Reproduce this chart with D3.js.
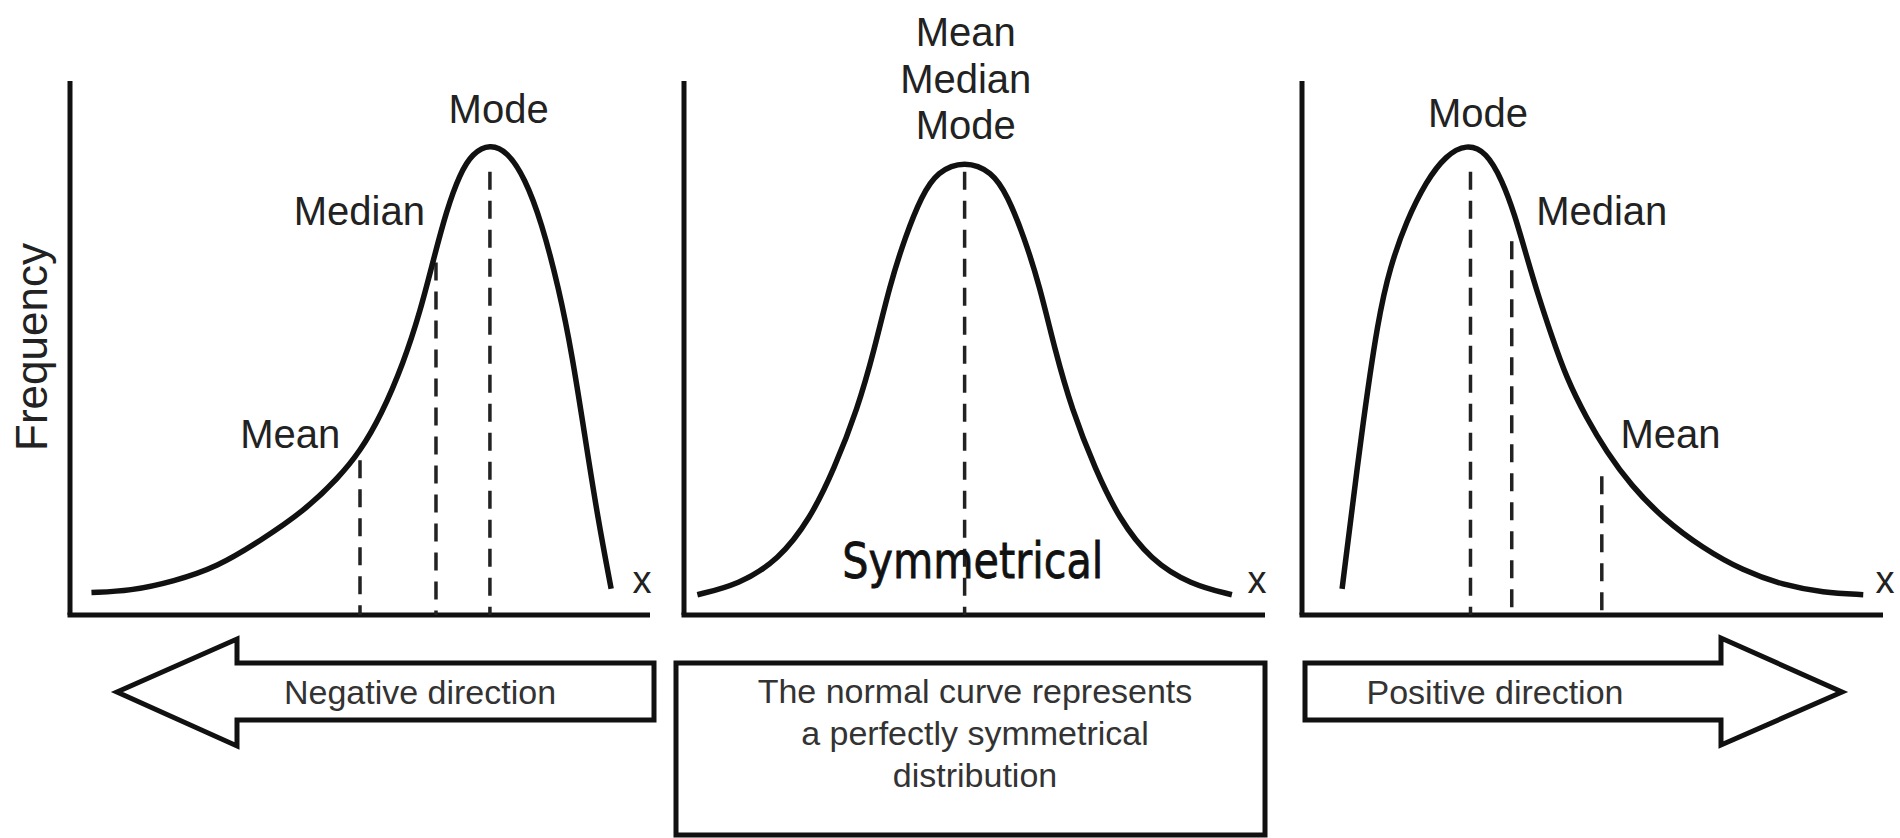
<!DOCTYPE html>
<html><head><meta charset="utf-8">
<script src="https://cdn.jsdelivr.net/npm/d3@7"></script>
<style>body{margin:0;background:#fff}svg{display:block}</style>
</head><body>
<svg id="c" width="1900" height="838"></svg>
<script>
// ---------- data (x: 0..100 along axis, y: 0..100 frequency) ----------
const negX = [3.7,10.4,17.9,25.4,32.8,40.3,46.3,50.0,53.7,57.5,60.4,62.7,64.9,67.2,69.4,72.4,75.4,78.4,81.3,84.3,86.6,88.8,91.0,93.3];
const negY = [4.2,4.5,6.3,9.0,13.9,19.4,25.7,30.6,37.5,47.2,56.9,66.7,75.7,82.6,86.5,88.2,86.8,81.9,73.6,61.1,48.6,33.3,18.1,4.9];
const normX = [2.3,9.4,16.3,21.7,25.8,29.9,32.7,35.4,38.1,40.9,43.6,48.3,53.0,55.7,58.5,61.2,63.9,66.7,70.8,74.9,80.3,87.2,94.3];
const normY = [3.8,5.7,10.3,18.0,27.2,38.7,49.4,61.7,70.9,78.5,83.1,85.1,83.1,78.5,70.9,61.7,49.4,38.7,27.2,18.0,10.3,5.7,3.8];
const posX = [6.9,10.3,13.1,15.2,17.9,21.4,24.8,28.3,31.7,34.5,36.6,38.6,40.7,42.8,45.5,49.0,52.4,56.6,62.1,69.0,75.9,82.8,89.7,96.6];
const posY = [4.9,34.7,55.6,65.3,73.6,81.3,86.1,88.2,86.8,81.3,75.0,67.4,59.7,52.8,44.4,36.8,30.6,24.3,18.1,12.5,8.3,5.6,4.2,3.8];

const negDashX = [50.0, 63.1, 72.4];
const negDashTop = [29, 66, 83];
const normDashX = [48.3];
const normDashTop = [83];
const posDashX = [29.0, 36.1, 51.6];
const posDashTop = [83, 70, 26];

const negLabels = ["Mean", "Median", "Mode"];
const negLabelX = [46.6, 61.2, 73.9];
const negLabelY = [34.0, 75.7, 94.8];
const normLabels = ["Mean", "Median", "Mode"];
const normLabelX = [48.5, 48.5, 48.5];
const normLabelY = [109.2, 100.4, 91.8];
const posLabels = ["Mean", "Median", "Mode"];
const posLabelX = [54.8, 40.3, 30.3];
const posLabelY = [34.0, 75.7, 94.1];

const axisTitle = "Frequency";
const xLabel = "x";
const centerWord = "Symmetrical";
const leftArrowText = "Negative direction";
const rightArrowText = "Positive direction";
const boxLines = ["The normal curve represents", "a perfectly symmetrical", "distribution"];

// ---------- drawing ----------
const svg = d3.select("#c");
const FONT = "'Liberation Sans', Arial, Helvetica, sans-serif";
const INK = "#111";
const yTopPx = 81, yBotPx = 615;

const panels = [
  {x0:70, x1:650, cx:negX, cy:negY, dx:negDashX, dt:negDashTop, lt:negLabels, lx:negLabelX, ly:negLabelY, anchors:["end","end","middle"]},
  {x0:684, x1:1265, cx:normX, cy:normY, dx:normDashX, dt:normDashTop, lt:normLabels, lx:normLabelX, ly:normLabelY, anchors:["middle","middle","middle"]},
  {x0:1302, x1:1883, cx:posX, cy:posY, dx:posDashX, dt:posDashTop, lt:posLabels, lx:posLabelX, ly:posLabelY, anchors:["start","start","middle"]}
];

panels.forEach((p, i) => {
  const x = d3.scaleLinear().domain([0,100]).range([p.x0, p.x1]);
  const y = d3.scaleLinear().domain([0,100]).range([yBotPx, yTopPx]);
  const g = svg.append("g");

  // axes
  g.append("line").attr("x1", x(0)).attr("x2", x(0)).attr("y1", y(100)).attr("y2", y(0))
    .attr("stroke", INK).attr("stroke-width", 5);
  g.append("line").attr("x1", x(0) - 2.5).attr("x2", x(100)).attr("y1", y(0)).attr("y2", y(0))
    .attr("stroke", INK).attr("stroke-width", 5);

  // dashed markers
  p.dx.forEach((dx, k) => {
    g.append("line").attr("x1", x(dx)).attr("x2", x(dx)).attr("y1", y(p.dt[k])).attr("y2", y(0))
      .attr("stroke", "#222").attr("stroke-width", 3.5).attr("stroke-dasharray", "18,11");
  });

  // curve
  const pts = p.cx.map((v, k) => [v, p.cy[k]]);
  const line = d3.line().x(d => x(d[0])).y(d => y(d[1])).curve(d3.curveBasis);
  g.append("path").attr("d", line(pts)).attr("fill", "none").attr("stroke", INK)
    .attr("stroke-width", 5.5).attr("stroke-linecap", "butt").attr("stroke-linejoin", "round");

  // labels
  p.lt.forEach((t, k) => {
    g.append("text").attr("x", x(p.lx[k])).attr("y", y(p.ly[k]) + 14.3)
      .attr("text-anchor", p.anchors[k]).attr("font-family", FONT).attr("font-size", 40)
      .attr("fill", "#222").text(t);
  });

  // x label
  g.append("text").attr("x", x(100) + (i === 2 ? 2 : -8)).attr("y", y(6) + 10)
    .attr("text-anchor", "middle").attr("font-family", FONT).attr("font-size", 38)
    .attr("fill", "#222").text(xLabel);

  if (i === 0) {
    svg.append("text").attr("transform", "translate(46.5,347) rotate(-90)")
      .attr("text-anchor", "middle").attr("font-family", FONT).attr("font-size", 44)
      .attr("fill", "#222").text(axisTitle);
  }
  if (i === 1) {
    g.append("text").attr("x", x(49.7)).attr("y", 578)
      .attr("text-anchor", "middle").attr("font-family", "'DejaVu Sans', sans-serif")
      .attr("font-size", 50).attr("textLength", 261).attr("lengthAdjust", "spacingAndGlyphs")
      .attr("fill", "#111").attr("stroke", "#111").attr("stroke-width", 0.8).text(centerWord);
  }
});

// bottom arrows & box
const lineGen = d3.line();
const leftArrow = [[117,692],[237,639],[237,663],[654,663],[654,720],[237,720],[237,746]];
const rightArrow = [[1305,663],[1721,663],[1721,638],[1842,692],[1721,745],[1721,720],[1305,720]];
svg.append("path").attr("d", lineGen(leftArrow) + "Z").attr("fill", "#fff")
  .attr("stroke", INK).attr("stroke-width", 5).attr("stroke-linejoin", "miter");
svg.append("path").attr("d", lineGen(rightArrow) + "Z").attr("fill", "#fff")
  .attr("stroke", INK).attr("stroke-width", 5).attr("stroke-linejoin", "miter");
svg.append("rect").attr("x", 676).attr("y", 663).attr("width", 589).attr("height", 172)
  .attr("fill", "#fff").attr("stroke", INK).attr("stroke-width", 5);

svg.append("text").attr("x", 420).attr("y", 704).attr("text-anchor", "middle")
  .attr("font-family", FONT).attr("font-size", 34).attr("fill", "#333").text(leftArrowText);
svg.append("text").attr("x", 1495).attr("y", 704).attr("text-anchor", "middle")
  .attr("font-family", FONT).attr("font-size", 34).attr("fill", "#333").text(rightArrowText);
const baselines = [703, 745, 787];
boxLines.forEach((t, k) => {
  svg.append("text").attr("x", 975).attr("y", baselines[k]).attr("text-anchor", "middle")
    .attr("font-family", FONT).attr("font-size", 34).attr("fill", "#333").text(t);
});
</script>
</body></html>
